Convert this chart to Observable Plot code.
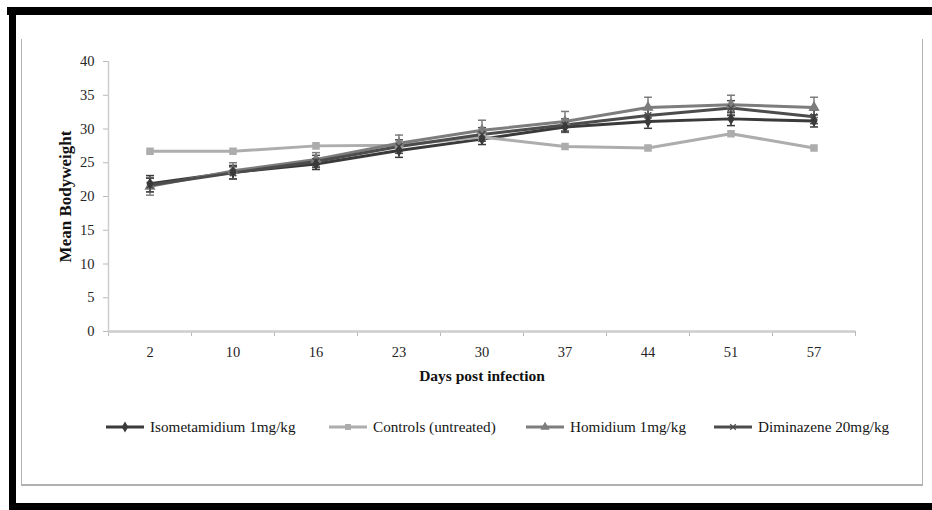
<!DOCTYPE html>
<html><head><meta charset="utf-8">
<script src="https://cdn.jsdelivr.net/npm/d3@7"></script>
<script src="https://cdn.jsdelivr.net/npm/@observablehq/plot@0.6"></script>
<style>
body{margin:0;background:#fff;}
#wrap{position:relative;width:932px;height:510px;overflow:hidden;font-family:"Liberation Serif","Times New Roman",serif;background:#fff;}
.bk{position:absolute;background:#000;z-index:5;}
#frame{position:absolute;left:21px;top:39px;width:900px;height:445px;border-left:1.5px solid #b4b4b4;border-right:1.5px solid #b4b4b4;border-bottom:2px solid #b0b0b0;}
#chart{position:absolute;left:0;top:0;z-index:2;}
.leg{position:absolute;top:418px;height:18px;display:flex;align-items:center;font-size:15.2px;color:#151515;white-space:nowrap;z-index:3;}
.leg svg{margin-right:5px;}
</style>
</head><body>
<div id="wrap">
  <div id="frame"></div>
  <div id="chart"></div>
  <div class="bk" style="left:7px;top:7px;width:925px;height:8px;"></div>
  <div class="bk" style="left:9px;top:7px;width:7px;height:503px;"></div>
  <div class="bk" style="left:9px;top:503px;width:923px;height:7px;"></div>
</div>
<script>
const days = ["2","10","16","23","30","37","44","51","57"];
const yTicks = [0,5,10,15,20,25,30,35,40];
const seriesNames = ["Isometamidium 1mg/kg","Controls (untreated)","Homidium 1mg/kg","Diminazene 20mg/kg"];
const isometamidium = [21.9, 23.6, 24.8, 26.8, 28.5, 30.3, 31.1, 31.5, 31.2];
const controls      = [26.7, 26.7, 27.5, 27.6, 28.8, 27.4, 27.2, 29.3, 27.2];
const homidium      = [21.5, 23.8, 25.5, 27.9, 29.8, 31.1, 33.2, 33.6, 33.2];
const diminazene    = [21.7, 23.5, 25.2, 27.4, 29.2, 30.6, 32.0, 33.1, 31.8];
const isoErr = [1.2, 1.0, 0.8, 1.0, 0.8, 0.8, 1.0, 1.0, 0.9];
const conErr = [0, 0, 0, 0, 0, 0, 0, 0, 0];
const homErr = [1.3, 1.2, 1.0, 1.2, 1.5, 1.5, 1.5, 1.4, 1.5];
const dimErr = [1.0, 0.9, 0.9, 1.0, 1.0, 0.9, 1.0, 1.1, 1.0];
const colors = ["#3a3a3a","#adadad","#7d7d7d","#4c4c4c"];
const symbols = ["diamond","square","triangle","times"];
const radii = [3.5, 5, 4.5, 4];

const allValues = [isometamidium, controls, homidium, diminazene];
const allErr = [isoErr, conErr, homErr, dimErr];
const rows = [];
seriesNames.forEach((s, k) => {
  allValues[k].forEach((v, i) => rows.push({series: s, k, i, day: days[i], value: v, err: allErr[k][i]}));
});
const errRows = rows.filter(d => d.err > 0);
const xPos = d => d.i + 0.5;

const hline = {draw(ctx, size){ const w = Math.sqrt(size / Math.PI); ctx.moveTo(-w, 0); ctx.lineTo(w, 0); }};

const chart = Plot.plot({
  width: 932, height: 400,
  marginLeft: 108, marginRight: 77, marginTop: 61, marginBottom: 69,
  style: {background: "transparent", fontFamily: "'Liberation Serif','Times New Roman',serif", fontSize: "14px", color: "#222"},
  x: {domain: [0, 9], axis: null},
  y: {domain: [0, 40], axis: null},
  color: {domain: seriesNames, range: colors},
  symbol: {domain: seriesNames, range: symbols},
  marks: [
    Plot.axisY({ticks: yTicks, tickSize: 5, tickPadding: 9, stroke: "#b8b8b8", fill: "#262626", fontSize: 14.5, label: null}),
    Plot.axisX({ticks: d3.range(days.length + 1), tickSize: 5, tickFormat: () => "", stroke: "#b8b8b8", label: null}),
    Plot.axisX({ticks: days.map((d, i) => i + 0.5), tickSize: 0, tickPadding: 15, tickFormat: v => days[Math.floor(v)], fill: "#262626", fontSize: 14.5, label: null}),
    Plot.ruleX([0], {stroke: "#cdcdcd", strokeWidth: 1.5}),
    Plot.ruleY([0], {stroke: "#cdcdcd", strokeWidth: 2.5}),
    Plot.text(["Days post infection"], {frameAnchor: "bottom", dy: 49, fontWeight: "bold", fontSize: 15.5, fill: "#111"}),
    Plot.text(["Mean Bodyweight"], {frameAnchor: "left", dx: -43, rotate: -90, textAnchor: "middle", fontWeight: "bold", fontSize: 17, fill: "#111"}),
    Plot.ruleX(errRows, {x: xPos, y1: d => d.value - d.err, y2: d => d.value + d.err, stroke: "series", strokeWidth: 1.5}),
    Plot.dot(errRows, {x: xPos, y: d => d.value + d.err, symbol: hline, r: 4, stroke: "series", strokeWidth: 1.5}),
    Plot.dot(errRows, {x: xPos, y: d => d.value - d.err, symbol: hline, r: 4, stroke: "series", strokeWidth: 1.5}),
    Plot.line(rows, {x: xPos, y: "value", z: "series", stroke: "series", strokeWidth: 3}),
    Plot.dot(rows, {x: xPos, y: "value", symbol: "series", r: d => radii[d.k], fill: "series", stroke: "series", strokeWidth: 1.5})
  ]
});
document.getElementById("chart").appendChild(chart);

// HTML legend
const legLeft = [105, 328, 525, 713];
const wrap = document.getElementById("wrap");
seriesNames.forEach((s, k) => {
  const item = document.createElement("div");
  item.className = "leg";
  item.style.left = legLeft[k] + "px";
  const svg = d3.create("svg").attr("width", 40).attr("height", 16);
  svg.append("line").attr("x1", 1).attr("x2", 39).attr("y1", 8).attr("y2", 8).attr("stroke", colors[k]).attr("stroke-width", 3);
  const symType = {diamond: d3.symbolDiamond, square: d3.symbolSquare, triangle: d3.symbolTriangle, times: d3.symbolTimes}[symbols[k]];
  svg.append("path").attr("d", d3.symbol(symType, 22)).attr("transform", "translate(20,8)")
    .attr("fill", symbols[k] === "times" ? "none" : colors[k]).attr("stroke", colors[k]).attr("stroke-width", 1.2);
  item.appendChild(svg.node());
  const t = document.createElement("span");
  t.textContent = s;
  item.appendChild(t);
  wrap.appendChild(item);
});
</script>
</body></html>
